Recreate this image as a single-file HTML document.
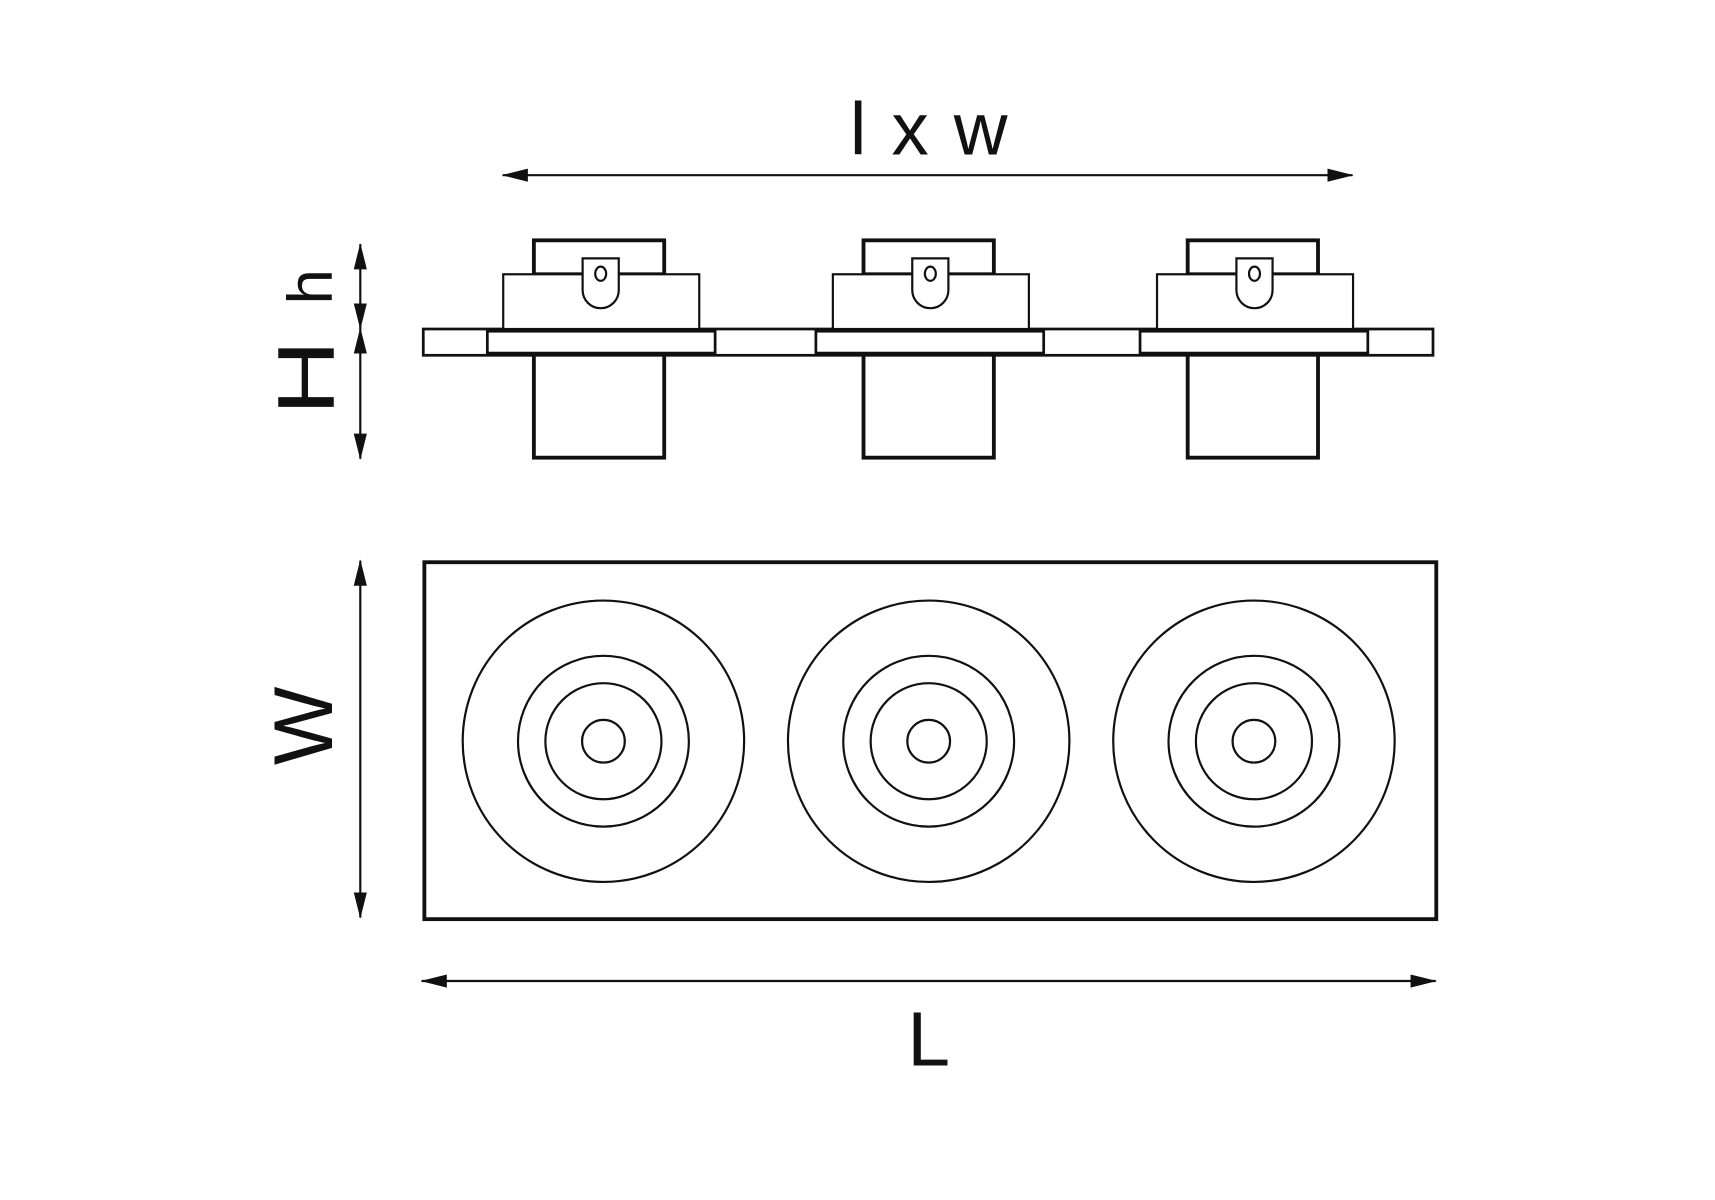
<!DOCTYPE html>
<html><head><meta charset="utf-8"><style>html,body{margin:0;padding:0;background:#fff;}svg{display:block}</style></head>
<body>
<svg width="1715" height="1200" viewBox="0 0 1566 1096" preserveAspectRatio="none" xmlns="http://www.w3.org/2000/svg">
<defs>
<marker id="a" markerWidth="24" markerHeight="14" refX="23" refY="7" orient="auto-start-reverse" markerUnits="userSpaceOnUse">
<path d="M0,1 L24,7 L0,13 Z" fill="#111"/>
</marker>
<g id="unit">
<rect x="487.5" y="219.5" width="119" height="31" fill="#fff" stroke="#111" stroke-width="3.5"/>
<rect x="459.5" y="250.5" width="179" height="50" fill="#fff" stroke="#111" stroke-width="2"/>
<path d="M532,236 H565 V265 A16.5,16.5 0 0 1 532,265 Z" fill="#fff" stroke="#111" stroke-width="2"/>
<ellipse cx="548.5" cy="250" rx="5" ry="6.5" fill="#fff" stroke="#111" stroke-width="2"/>
<rect x="487.5" y="324" width="119" height="94" fill="#fff" stroke="#111" stroke-width="3.5"/>
</g>
<g id="circ" fill="none" stroke="#111" stroke-width="2">
<circle r="128.5"/><circle r="78"/><circle r="53"/><circle r="19.5"/>
</g>
</defs>
<g font-family="Liberation Sans, sans-serif" fill="#111">
<text x="849" y="141" font-size="68" text-anchor="middle" letter-spacing="2">l x w</text>
<text x="848" y="973" font-size="70" text-anchor="middle">L</text>
<text transform="translate(303,262) rotate(-90)" font-size="58" text-anchor="middle">h</text>
<text transform="translate(305,345) rotate(-90) scale(1.45,1.12)" font-size="66" text-anchor="middle">H</text>
<text transform="translate(303,663) rotate(-90)" font-size="76" text-anchor="middle">W</text>
</g>
<g stroke="#111" stroke-width="2" fill="none">
<line x1="459" y1="160" x2="1235" y2="160" marker-start="url(#a)" marker-end="url(#a)"/>
<line x1="329" y1="223" x2="329" y2="300" marker-start="url(#a)" marker-end="url(#a)"/>
<line x1="329" y1="300" x2="329" y2="419" marker-start="url(#a)" marker-end="url(#a)"/>
<line x1="329" y1="512" x2="329" y2="838" marker-start="url(#a)" marker-end="url(#a)"/>
<line x1="385" y1="896" x2="1311" y2="896" marker-start="url(#a)" marker-end="url(#a)"/>
</g>
<rect x="386.5" y="300.5" width="922" height="24" fill="#fff" stroke="#111" stroke-width="2.5"/>
<use href="#unit"/>
<use href="#unit" x="301"/>
<use href="#unit" x="597"/>
<g fill="#fff" stroke="#111" stroke-width="2.5">
<rect x="445" y="302.5" width="208" height="20"/>
<rect x="745" y="302.5" width="208" height="20"/>
<rect x="1041" y="302.5" width="208" height="20"/>
</g>
<rect x="387.5" y="513.5" width="924" height="326" fill="none" stroke="#111" stroke-width="3.5"/>
<use href="#circ" x="551" y="677"/>
<use href="#circ" x="848" y="677"/>
<use href="#circ" x="1145" y="677"/>
</svg>
</body></html>
